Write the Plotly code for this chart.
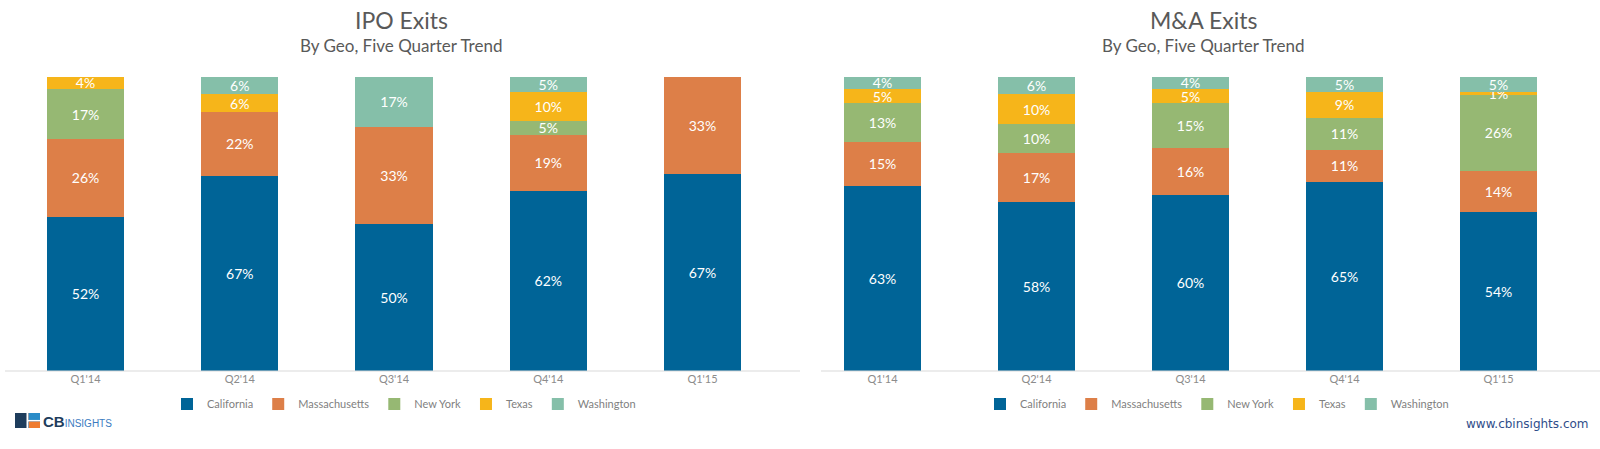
import plotly.graph_objects as go

W, H = 1600, 449

quarters = ["Q1'14", "Q2'14", "Q3'14", "Q4'14", "Q1'15"]
regions = ["California", "Massachusetts", "New York", "Texas", "Washington"]
colors = ["#006497", "#DD7F48", "#96B873", "#F6B51A", "#85BFA9"]

ipo_california = [52, 67, 50, 62, 67]
ipo_massachusetts = [26, 22, 33, 19, 33]
ipo_new_york = [17, 0, 0, 5, 0]
ipo_texas = [4, 6, 0, 10, 0]
ipo_washington = [0, 6, 17, 5, 0]

ma_california = [63, 58, 60, 65, 54]
ma_massachusetts = [15, 17, 16, 11, 14]
ma_new_york = [13, 10, 15, 11, 26]
ma_texas = [5, 10, 5, 9, 1]
ma_washington = [4, 6, 4, 5, 5]

ipo = [ipo_california, ipo_massachusetts, ipo_new_york, ipo_texas, ipo_washington]
ma = [ma_california, ma_massachusetts, ma_new_york, ma_texas, ma_washington]

FONT = "Lato"
GRAY = "#595959"


def px(x):
    return x / W


def py(y):
    return 1 - y / H


fig = go.Figure()

for series, xa, ya, lg in [(ipo, "x", "y", "legend"), (ma, "x2", "y2", "legend2")]:
    for name, vals, col in zip(regions, series, colors):
        fig.add_trace(go.Bar(
            x=quarters, y=vals, name=name, marker=dict(color=col, line=dict(width=0)),
            text=[f"{v}%" if v else "" for v in vals],
            textposition="inside", insidetextanchor="middle", textangle=0,
            constraintext="none",
            textfont=dict(color="white", size=14, family=FONT),
            xaxis=xa, yaxis=ya, legend=lg, hoverinfo="x+y+name",
        ))

ydom = [py(371), py(77)]
axis_common = dict(showgrid=False, zeroline=False, showline=False, ticks="",
                   tickfont=dict(size=11, color="#8c8c8c", family=FONT))

legend_common = dict(orientation="h", yanchor="middle", xanchor="center",
                     font=dict(size=11, color="#7f7f7f", family=FONT), itemwidth=30,
                     traceorder="normal", bgcolor="rgba(0,0,0,0)")

fig.update_layout(
    width=W, height=H, barmode="stack", barnorm="percent", bargap=0.5,
    margin=dict(l=0, r=0, t=0, b=0), paper_bgcolor="white", plot_bgcolor="white",
    font=dict(family=FONT, color=GRAY),
    xaxis=dict(domain=[px(8.4), px(779.6)], anchor="y", **axis_common),
    yaxis=dict(domain=ydom, range=[0, 100], visible=False, anchor="x"),
    xaxis2=dict(domain=[px(805.5), px(1575.5)], anchor="y2", **axis_common),
    yaxis2=dict(domain=ydom, range=[0, 100], visible=False, anchor="x2"),
    legend=dict(x=px(404), y=py(404), **legend_common),
    legend2=dict(x=px(1217), y=py(404), **legend_common),
    showlegend=True,
)

# axis baselines
fig.add_shape(type="line", xref="paper", yref="paper", x0=px(5), x1=px(800), y0=py(371), y1=py(371),
              line=dict(color="#d9d9d9", width=1))
fig.add_shape(type="line", xref="paper", yref="paper", x0=px(821), x1=px(1600), y0=py(371), y1=py(371),
              line=dict(color="#d9d9d9", width=1))

# titles
for cx, title in [(401, "IPO Exits"), (1203, "M&A Exits")]:
    fig.add_annotation(text=title, x=px(cx), y=py(20), xref="paper", yref="paper",
                       xanchor="center", yanchor="middle",
                       showarrow=False, font=dict(size=23, color=GRAY, family=FONT))
    fig.add_annotation(text="By Geo, Five Quarter Trend", x=px(cx), y=py(46), xref="paper", yref="paper",
                       xanchor="center", yanchor="middle",
                       showarrow=False, font=dict(size=17, color=GRAY, family=FONT))

# logo
fig.add_shape(type="rect", xref="paper", yref="paper", x0=px(15), x1=px(40), y0=py(428), y1=py(413),
              fillcolor="#1e3d5c", line=dict(width=0))
fig.add_shape(type="rect", xref="paper", yref="paper", x0=px(29), x1=px(40), y0=py(420), y1=py(413),
              fillcolor="#2a8cc8", line=dict(width=0))
fig.add_shape(type="rect", xref="paper", yref="paper", x0=px(29), x1=px(40), y0=py(428), y1=py(421.5),
              fillcolor="#ef7b2f", line=dict(width=0))
fig.add_shape(type="line", xref="paper", yref="paper", x0=px(27.5), x1=px(27.5), y0=py(428), y1=py(413),
              line=dict(color="white", width=2))
fig.add_shape(type="line", xref="paper", yref="paper", x0=px(27.5), x1=px(40), y0=py(420.7), y1=py(420.7),
              line=dict(color="white", width=1.5))
fig.add_annotation(text="<b>CB</b><span style='font-size:10px;color:#3a7bbf'>INSIGHTS</span>",
                   x=px(41), y=py(421), xref="paper", yref="paper", xanchor="left", yanchor="middle",
                   showarrow=False, font=dict(size=15, color="#1e3d5c", family="Liberation Sans"))

fig.add_annotation(text="www.cbinsights.com", x=px(1591), y=py(424), xref="paper", yref="paper",
                   xanchor="right", yanchor="middle", showarrow=False,
                   font=dict(size=12, color="#2f4d8a", family="DejaVu Sans"))

fig.write_html("out.html", config={"displayModeBar": False},
               post_script="document.body.style.margin='0';document.body.style.overflow='hidden';")
